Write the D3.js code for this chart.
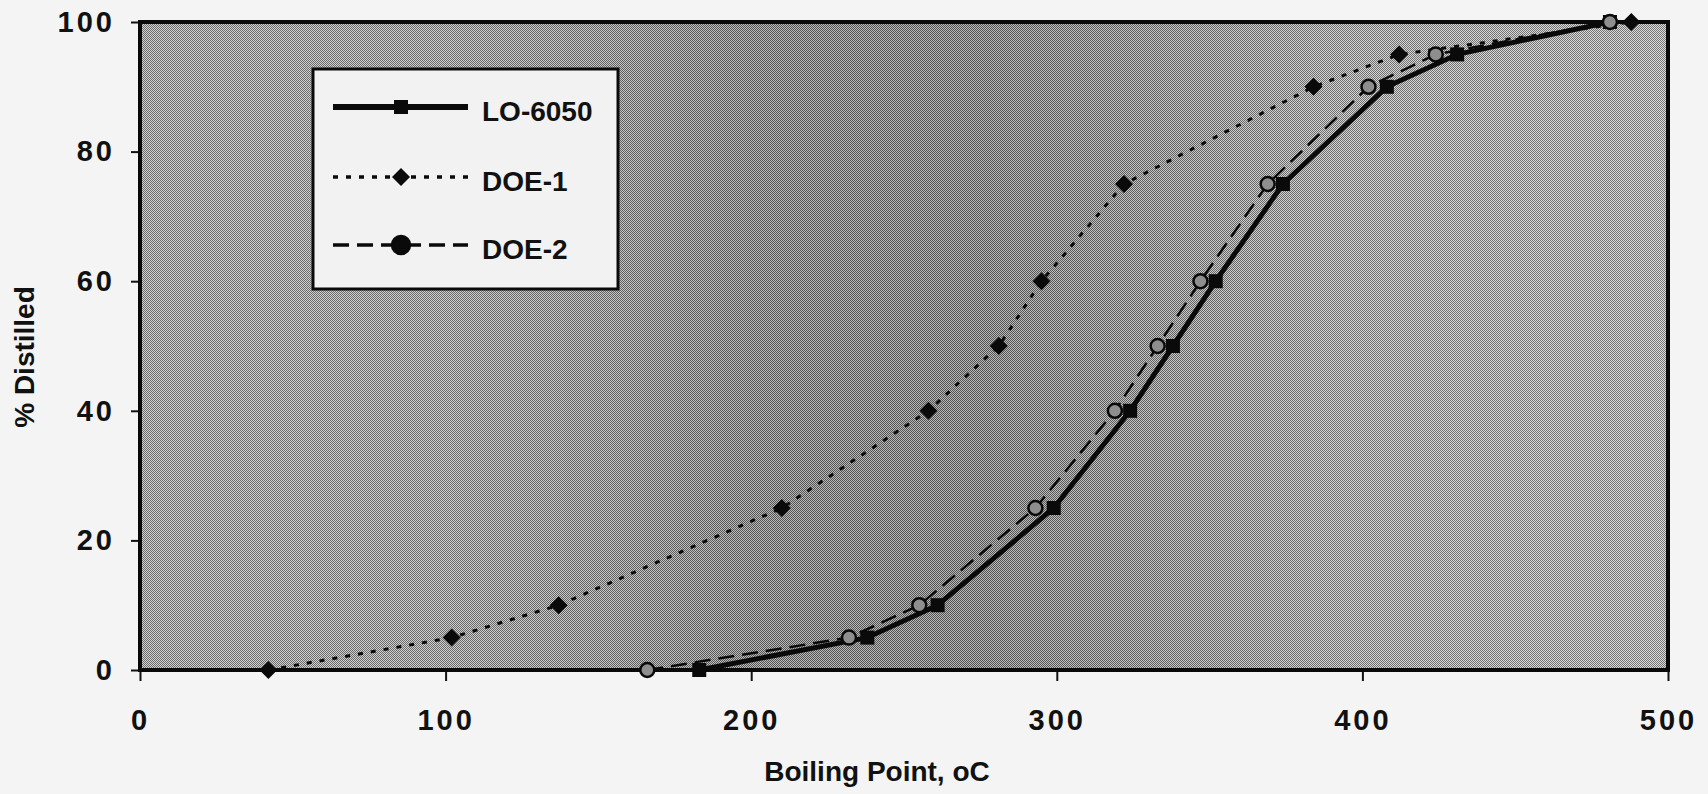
<!DOCTYPE html>
<html>
<head>
<meta charset="utf-8">
<script src="https://cdn.jsdelivr.net/npm/d3@7"></script>
<style>
  html, body { margin: 0; padding: 0; background: #f4f4f4; }
  svg { display: block; }
  text { font-family: "Liberation Sans", Arial, Helvetica, sans-serif; font-weight: bold; fill: #111; }
</style>
</head>
<body>
<svg id="chart" width="1708" height="794"></svg>
<script>
// Percent distilled at each cut point
const pctDistilled = [0, 5, 10, 25, 40, 50, 60, 75, 90, 95, 100];
// Boiling point (oC) reached at each cut, per sample
const lo6050 = [183, 238, 261, 299, 324, 338, 352, 374, 408, 431, 481];
const doe1   = [42, 102, 137, 210, 258, 281, 295, 322, 384, 412, 488];
const doe2   = [166, 232, 255, 293, 319, 333, 347, 369, 402, 424, 481];

const seriesNames = ["LO-6050", "DOE-1", "DOE-2"];
const xTicks = [0, 100, 200, 300, 400, 500];
const yTicks = [0, 20, 40, 60, 80, 100];

const svg = d3.select("#chart");
const W = 1708, H = 794;
const margin = { left: 140, right: 40, top: 22, bottom: 124 };
const plotW = W - margin.left - margin.right;
const plotH = H - margin.top - margin.bottom;

const x = d3.scaleLinear().domain([0, 500]).range([margin.left, margin.left + plotW]);
const y = d3.scaleLinear().domain([0, 100]).range([margin.top + plotH, margin.top]);

// ---- plot background: shaded halftone-like panel ----
const defs = svg.append("defs");
const grad = defs.append("linearGradient").attr("id", "panelShade")
  .attr("x1", "0%").attr("x2", "100%").attr("y1", "0%").attr("y2", "0%");
[[0, "#b4b4b4"], [0.2, "#b0b0b0"], [0.3, "#a2a2a2"], [0.4, "#8c8c8c"],
 [0.55, "#888888"], [0.65, "#9c9c9c"], [0.78, "#b8b8b8"], [1, "#c4c4c4"]]
  .forEach(([o, c]) => grad.append("stop").attr("offset", o).attr("stop-color", c));

const dots = defs.append("pattern").attr("id", "dots")
  .attr("width", 2).attr("height", 2).attr("patternUnits", "userSpaceOnUse");
dots.append("rect").attr("x", 0).attr("y", 0).attr("width", 1).attr("height", 1).attr("fill", "#000").attr("opacity", 0.4);
dots.append("rect").attr("x", 1).attr("y", 1).attr("width", 1).attr("height", 1).attr("fill", "#000").attr("opacity", 0.4);
dots.append("rect").attr("x", 1).attr("y", 0).attr("width", 1).attr("height", 1).attr("fill", "#fff").attr("opacity", 0.4);
dots.append("rect").attr("x", 0).attr("y", 1).attr("width", 1).attr("height", 1).attr("fill", "#fff").attr("opacity", 0.4);

svg.append("rect").attr("x", margin.left).attr("y", margin.top)
  .attr("width", plotW).attr("height", plotH).attr("fill", "url(#panelShade)");
svg.append("rect").attr("x", margin.left).attr("y", margin.top)
  .attr("width", plotW).attr("height", plotH).attr("fill", "url(#dots)");

// ---- axes ----
const yAxis = d3.axisLeft(y).tickValues(yTicks).tickSize(9).tickPadding(16).tickFormat(d3.format("d"));
const xAxis = d3.axisBottom(x).tickValues(xTicks).tickSize(11).tickPadding(28).tickFormat(d3.format("d"));

const gy = svg.append("g").attr("transform", `translate(${margin.left},0)`).call(yAxis);
const gx = svg.append("g").attr("transform", `translate(0,${margin.top + plotH})`).call(xAxis);
[gx, gy].forEach(g => {
  g.select(".domain").remove();
  g.selectAll(".tick line").attr("stroke", "#111").attr("stroke-width", 2);
  g.selectAll(".tick text").attr("fill", "#111")
    .style("font-size", "29px").style("font-weight", "bold").style("letter-spacing", "3px");
});

// plot frame
svg.append("rect").attr("x", margin.left).attr("y", margin.top)
  .attr("width", plotW).attr("height", plotH)
  .attr("fill", "none").attr("stroke", "#0a0a0a").attr("stroke-width", 4);

// axis titles
svg.append("text").attr("x", 877).attr("y", 781).attr("text-anchor", "middle")
  .style("font-size", "28px").text("Boiling Point, oC");
svg.append("text").attr("transform", "translate(34,357) rotate(-90)").attr("text-anchor", "middle")
  .style("font-size", "28px").text("% Distilled");

// ---- series ----
const styles = {
  "LO-6050": { data: lo6050, width: 5, dash: null, marker: "square" },
  "DOE-1":   { data: doe1, width: 3, dash: "5,8", marker: "diamond" },
  "DOE-2":   { data: doe2, width: 2.5, dash: "16,8", marker: "circle" }
};

const line = d3.line().x(d => x(d[0])).y(d => y(d[1]));

function drawMarker(g, kind, cx, cy, legend) {
  if (kind === "square") {
    g.append("rect").attr("x", cx - 7).attr("y", cy - 7).attr("width", 14).attr("height", 14).attr("fill", "#0a0a0a");
  } else if (kind === "diamond") {
    const s = 9;
    g.append("path").attr("d", `M${cx},${cy - s}L${cx + s},${cy}L${cx},${cy + s}L${cx - s},${cy}Z`).attr("fill", "#0a0a0a");
  } else {
    g.append("circle").attr("cx", cx).attr("cy", cy).attr("r", legend ? 9 : 7)
      .attr("fill", legend ? "#0a0a0a" : "#8e8e8e").attr("stroke", "#0a0a0a").attr("stroke-width", 2.5);
  }
}

seriesNames.forEach(name => {
  const st = styles[name];
  const pts = st.data.map((bp, i) => [bp, pctDistilled[i]]);
  const g = svg.append("g");
  g.append("path").attr("d", line(pts)).attr("fill", "none").attr("stroke", "#0a0a0a")
    .attr("stroke-width", st.width).attr("stroke-dasharray", st.dash)
    .attr("stroke-linejoin", "round").attr("stroke-linecap", st.dash ? "butt" : "round");
  pts.forEach(p => drawMarker(g, st.marker, x(p[0]), y(p[1]), false));
});

// ---- legend ----
const lg = svg.append("g");
lg.append("rect").attr("x", 313).attr("y", 69).attr("width", 305).attr("height", 220)
  .attr("fill", "#f2f2f2").attr("stroke", "#0a0a0a").attr("stroke-width", 3);
const legendRows = [107, 177, 245];
seriesNames.forEach((name, i) => {
  const st = styles[name];
  const ly = legendRows[i];
  lg.append("line").attr("x1", 333).attr("x2", 468).attr("y1", ly).attr("y2", ly)
    .attr("stroke", "#0a0a0a").attr("stroke-width", name === "LO-6050" ? 6 : 3.5)
    .attr("stroke-dasharray", st.dash);
  drawMarker(lg, st.marker, 401, ly, true);
  lg.append("text").attr("x", 482).attr("y", ly + 14).style("font-size", "28px").text(name);
});
</script>
</body>
</html>
